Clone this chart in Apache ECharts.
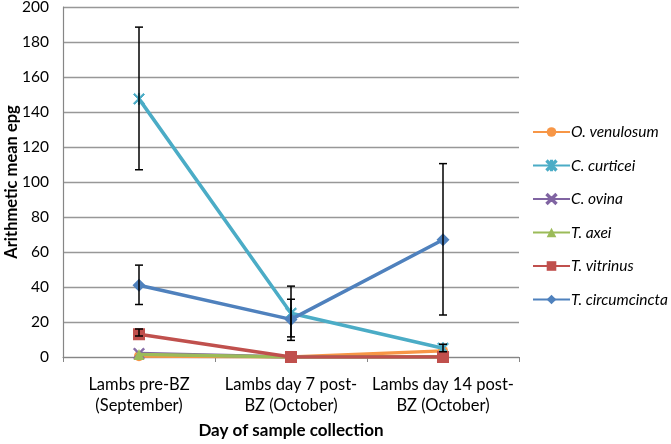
<!DOCTYPE html>
<html><head><meta charset="utf-8">
<script src="https://cdn.jsdelivr.net/npm/echarts@6/dist/echarts.min.js"></script>
<style>html,body{margin:0;padding:0;background:#fff}#c{width:671px;height:444px}</style>
</head><body><div id="c"></div>
<script>
const categories = ['Lambs pre-BZ\n(September)', 'Lambs day 7 post-\nBZ (October)', 'Lambs day 14 post-\nBZ (October)'];
const yTicks = [0, 20, 40, 60, 80, 100, 120, 140, 160, 180, 200];
const seriesNames = ['O. venulosum', 'C. curticei', 'C. ovina', 'T. axei', 'T. vitrinus', 'T. circumcincta'];
const oVenulosum = [0.5, 0, 3.5];
const cCurticei = [147.5, 25, 5];
const cOvina = [2, 0, 0];
const tAxei = [1.5, 0, 0];
const tVitrinus = [13, 0, 0];
const tCircumcincta = [41, 21.5, 67];
// error bars: [category index, low, high]
const errCurticei = [[0, 107, 188.5], [1, 9.5, 40.5], [2, 3, 7.3]];
const errCircumcincta = [[0, 30, 52.5], [1, 11.5, 33], [2, 24, 110.5]];
const errVitrinus = [[0, 12, 16]];

const colors = ['#F79646', '#4BACC6', '#8064A2', '#9BBB59', '#C0504D', '#4F81BD'];
const symbols = ['circle', 'path://M1,0 L5,4 L9,0 L10,1 L6,5 L10,9 L9,10 L5,6 L1,10 L0,9 L4,5 L0,1 Z M4.4,0 L5.6,0 L5.6,10 L4.4,10 Z', 'path://M1,0 L5,4 L9,0 L10,1 L6,5 L10,9 L9,10 L5,6 L1,10 L0,9 L4,5 L0,1 Z', 'triangle', 'rect', 'diamond'];
const sizes = [10, 11, 11, 11, 12, 13];
const values = [oVenulosum, cCurticei, cOvina, tAxei, tVitrinus, tCircumcincta];

function errRender(params, api) {
  const x = api.value(0);
  const lo = api.coord([x, api.value(1)]);
  const hi = api.coord([x, api.value(2)]);
  const cap = 4;
  const st = {stroke: '#000', lineWidth: 1.5};
  return {type: 'group', children: [
    {type: 'line', shape: {x1: lo[0], y1: lo[1], x2: hi[0], y2: hi[1]}, style: st},
    {type: 'line', shape: {x1: lo[0]-cap, y1: lo[1], x2: lo[0]+cap, y2: lo[1]}, style: st},
    {type: 'line', shape: {x1: hi[0]-cap, y1: hi[1], x2: hi[0]+cap, y2: hi[1]}, style: st}
  ]};
}

const series = [];
seriesNames.forEach((n, i) => {
  series.push({
    name: n, type: 'line', data: values[i], color: colors[i],
    symbol: symbols[i], symbolSize: sizes[i], showSymbol: true,
    lineStyle: {width: 3.5, color: colors[i]},
    itemStyle: {color: colors[i], borderColor: colors[i], borderWidth: (i===1||i===2)?1:0},
    z: 2 + i, animation: false
  });
});
[errVitrinus, errCurticei, errCircumcincta].forEach(d => {
  series.push({type: 'custom', renderItem: errRender, data: d, z: 10, animation: false, silent: true,
    encode: {x: 0, y: [1, 2]}});
});

const chart = echarts.init(document.getElementById('c'), null, {renderer: 'canvas'});
chart.setOption({
  animation: false,
  textStyle: {fontFamily: 'Lato'},
  grid: {left: 63, right: 152, top: 7, bottom: 87, containLabel: false, outerBoundsMode: 'none'},
  legend: {
    orient: 'vertical', left: 527, top: 119, itemGap: 17.5, itemWidth: 37, itemHeight: 12,
    data: seriesNames,
    textStyle: {fontStyle: 'italic', fontSize: 15.5, lineHeight: 12, color: '#000', fontFamily: 'Lato', padding: [0,0,0,-4]}
  },
  xAxis: {
    type: 'category', data: categories, boundaryGap: true,
    name: 'Day of sample collection', nameLocation: 'middle', nameGap: 65, nameMoveOverlap: false,
    nameTextStyle: {fontWeight: 'bold', fontSize: 17, color: '#000', fontFamily: 'Lato'},
    axisLine: {lineStyle: {color: '#868686', width: 1.2}},
    axisTick: {show: true, length: 5, lineStyle: {color: '#868686'}, alignWithLabel: false},
    axisLabel: {fontSize: 16.5, color: '#000', lineHeight: 21, margin: 17, interval: 0, fontFamily: 'Lato'}
  },
  yAxis: {
    type: 'value', min: 0, max: 200, interval: 20,
    name: 'Arithmetic mean epg', nameLocation: 'middle', nameGap: 43, nameRotate: 90, nameMoveOverlap: false,
    nameTextStyle: {fontWeight: 'bold', fontSize: 16.5, color: '#000', fontFamily: 'Lato'},
    axisLine: {show: true, lineStyle: {color: '#868686', width: 1.2}},
    axisTick: {show: false},
    axisLabel: {fontSize: 15.5, color: '#000', margin: 14, fontFamily: 'Lato',
      formatter: v => yTicks.indexOf(v) >= 0 ? String(v) : ''},
    splitLine: {lineStyle: {color: '#989898', width: 1.3}}
  },
  series: series
});
</script></body></html>
